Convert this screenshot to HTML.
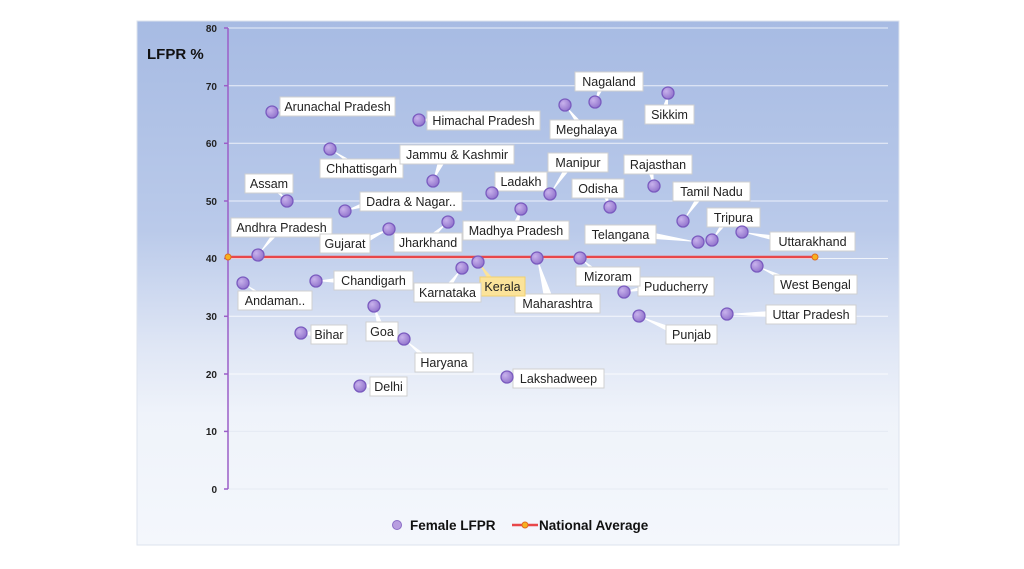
<!DOCTYPE html>
<html><head><meta charset="utf-8"><style>
body{margin:0;background:#fff;width:1024px;height:569px;overflow:hidden}
svg{display:block;font-family:"Liberation Sans",sans-serif}
.l rect{fill:#fff;stroke:#d0d0d0;stroke-width:1}
.l text{font-size:12.5px;fill:#222;text-anchor:middle}
.w{fill:#fff}
.p{fill:url(#pg);stroke:#7a5bbf;stroke-width:1.3}
.t{font-size:10px;font-weight:bold;fill:#222;text-anchor:end}
</style></head><body>
<svg width="1024" height="569" viewBox="0 0 1024 569">
<defs>
<linearGradient id="bg" x1="0" y1="0" x2="0" y2="1">
<stop offset="0" stop-color="#a7bbe3"/><stop offset="0.4" stop-color="#bacaea"/><stop offset="0.62" stop-color="#dfe6f5"/><stop offset="0.75" stop-color="#eff3fa"/><stop offset="1" stop-color="#f4f7fc"/>
</linearGradient>
<radialGradient id="pg" cx="0.35" cy="0.35" r="0.7"><stop offset="0" stop-color="#c8b2ec"/><stop offset="1" stop-color="#9173cc"/></radialGradient>
</defs>
<rect x="137" y="21" width="762" height="524" fill="url(#bg)" stroke="#dde3ee"/>
<g stroke="#ffffff" stroke-opacity="0.75" stroke-width="1">
<line x1="228" y1="28" x2="888" y2="28"/><line x1="228" y1="85.7" x2="888" y2="85.7"/><line x1="228" y1="143.3" x2="888" y2="143.3"/><line x1="228" y1="201" x2="888" y2="201"/><line x1="228" y1="258.5" x2="888" y2="258.5"/><line x1="228" y1="316.3" x2="888" y2="316.3"/><line x1="228" y1="374" x2="888" y2="374"/><line x1="228" y1="431.4" x2="888" y2="431.4" stroke="#e2e7f0"/><line x1="228" y1="489" x2="888" y2="489" stroke="#e2e7f0"/>
</g>
<line x1="228" y1="28" x2="228" y2="489" stroke="#9b5fc8" stroke-width="1.5"/>
<g stroke="#9b5fc8" stroke-width="1.5"><line x1="224" y1="28" x2="228" y2="28"/><line x1="224" y1="85.7" x2="228" y2="85.7"/><line x1="224" y1="143.3" x2="228" y2="143.3"/><line x1="224" y1="201" x2="228" y2="201"/><line x1="224" y1="258.5" x2="228" y2="258.5"/><line x1="224" y1="316.3" x2="228" y2="316.3"/><line x1="224" y1="374" x2="228" y2="374"/><line x1="224" y1="431.4" x2="228" y2="431.4"/><line x1="224" y1="489" x2="228" y2="489"/></g>
<g class="t"><text x="217" y="32">80</text><text x="217" y="90">70</text><text x="217" y="147">60</text><text x="217" y="205">50</text><text x="217" y="262">40</text><text x="217" y="320">30</text><text x="217" y="378">20</text><text x="217" y="435">10</text><text x="217" y="493">0</text></g>
<text x="147" y="59" font-size="15" font-weight="bold" fill="#111">LFPR %</text>

<g class="w">
<polygon points="258,255 277,227 285,227"/>
<polygon points="287,201 265,183 273,183"/>
<polygon points="272,112 300,102 300,110"/>
<polygon points="330,149 355,168 365,168"/>
<polygon points="345,211 375,197 375,205"/>
<polygon points="389,229 360,239 360,247"/>
<polygon points="448,222 420,242 430,242"/>
<polygon points="433,181 440,154 450,154"/>
<polygon points="419,120 440,116 440,124"/>
<polygon points="492,193 510,181 518,181"/>
<polygon points="521,209 510,230 518,230"/>
<polygon points="550,194 568,162 576,162"/>
<polygon points="565,105 580,129 588,129"/>
<polygon points="595,102 600,81 608,81"/>
<polygon points="668,94 660,114 668,114"/>
<polygon points="654,186 645,164 653,164"/>
<polygon points="610,207 598,188 606,188"/>
<polygon points="683,221 700,191 708,191"/>
<polygon points="712,240 725,217 733,217"/>
<polygon points="698,242 640,230 640,238"/>
<polygon points="742,232 790,237 790,245"/>
<polygon points="757,266 795,280 795,288"/>
<polygon points="727,314 785,310 785,318"/>
<polygon points="639,316 680,330 680,338"/>
<polygon points="624,292 655,282 655,290"/>
<polygon points="580,258 598,276 606,276"/>
<polygon points="537,258 545,303 555,303"/>
<polygon points="478,262 492,286 500,286" fill="#fbe39a"/>
<polygon points="462,268 440,292 448,292"/>
<polygon points="316,281 350,276 350,284"/>
<polygon points="243,283 265,300 273,300"/>
<polygon points="301,333 318,330 318,338"/>
<polygon points="374,306 378,331 386,331"/>
<polygon points="404,339 430,358 430,366"/>
<polygon points="360,386 380,382 380,390"/>
<polygon points="507,377 530,374 530,382"/>
</g>

<line x1="228" y1="257" x2="815" y2="257" stroke="#e8474a" stroke-width="2.5"/>
<circle cx="228" cy="257" r="3" fill="#f6b21f" stroke="#e06a20"/>
<circle cx="815" cy="257" r="3" fill="#f6b21f" stroke="#e06a20"/>

<g class="l">
<rect x="231" y="218" width="101" height="19"/><text x="281.5" y="232">Andhra Pradesh</text>
<rect x="245" y="174" width="48" height="19"/><text x="269" y="188">Assam</text>
<rect x="280" y="97" width="115" height="19"/><text x="337.5" y="111">Arunachal Pradesh</text>
<rect x="320" y="159" width="83" height="19"/><text x="361.5" y="173">Chhattisgarh</text>
<rect x="360" y="192" width="102" height="19"/><text x="411" y="206">Dadra &amp; Nagar..</text>
<rect x="320" y="234" width="50" height="19"/><text x="345" y="248">Gujarat</text>
<rect x="394" y="233" width="68" height="19"/><text x="428" y="247">Jharkhand</text>
<rect x="400" y="145" width="114" height="19"/><text x="457" y="159">Jammu &amp; Kashmir</text>
<rect x="427" y="111" width="113" height="19"/><text x="483.5" y="125">Himachal Pradesh</text>
<rect x="495" y="172" width="52" height="19"/><text x="521" y="186">Ladakh</text>
<rect x="463" y="221" width="106" height="19"/><text x="516" y="235">Madhya Pradesh</text>
<rect x="548" y="153" width="60" height="19"/><text x="578" y="167">Manipur</text>
<rect x="550" y="120" width="73" height="19"/><text x="586.5" y="134">Meghalaya</text>
<rect x="575" y="72" width="68" height="19"/><text x="609" y="86">Nagaland</text>
<rect x="645" y="105" width="49" height="19"/><text x="669.5" y="119">Sikkim</text>
<rect x="624" y="155" width="68" height="19"/><text x="658" y="169">Rajasthan</text>
<rect x="572" y="179" width="52" height="19"/><text x="598" y="193">Odisha</text>
<rect x="673" y="182" width="77" height="19"/><text x="711.5" y="196">Tamil Nadu</text>
<rect x="707" y="208" width="53" height="19"/><text x="733.5" y="222">Tripura</text>
<rect x="585" y="225" width="71" height="19"/><text x="620.5" y="239">Telangana</text>
<rect x="770" y="232" width="85" height="19"/><text x="812.5" y="246">Uttarakhand</text>
<rect x="774" y="275" width="83" height="19"/><text x="815.5" y="289">West Bengal</text>
<rect x="766" y="305" width="90" height="19"/><text x="811" y="319">Uttar Pradesh</text>
<rect x="666" y="325" width="51" height="19"/><text x="691.5" y="339">Punjab</text>
<rect x="638" y="277" width="76" height="19"/><text x="676" y="291">Puducherry</text>
<rect x="576" y="267" width="64" height="19"/><text x="608" y="281">Mizoram</text>
<rect x="515" y="294" width="85" height="19"/><text x="557.5" y="308">Maharashtra</text>
<rect x="480" y="277" width="45" height="19" style="fill:#fbe39a;stroke:#f0d070"/><text x="502.5" y="291">Kerala</text>
<rect x="414" y="283" width="67" height="19"/><text x="447.5" y="297">Karnataka</text>
<rect x="334" y="271" width="79" height="19"/><text x="373.5" y="285">Chandigarh</text>
<rect x="238" y="291" width="74" height="19"/><text x="275" y="305">Andaman..</text>
<rect x="311" y="325" width="36" height="19"/><text x="329" y="339">Bihar</text>
<rect x="366" y="322" width="32" height="19"/><text x="382" y="336">Goa</text>
<rect x="415" y="353" width="58" height="19"/><text x="444" y="367">Haryana</text>
<rect x="370" y="377" width="37" height="19"/><text x="388.5" y="391">Delhi</text>
<rect x="513" y="369" width="91" height="19"/><text x="558.5" y="383">Lakshadweep</text>
</g>

<g class="p">
<circle cx="258" cy="255" r="6"/><circle cx="287" cy="201" r="6"/><circle cx="272" cy="112" r="6"/><circle cx="330" cy="149" r="6"/><circle cx="345" cy="211" r="6"/><circle cx="389" cy="229" r="6"/><circle cx="448" cy="222" r="6"/><circle cx="433" cy="181" r="6"/><circle cx="419" cy="120" r="6"/><circle cx="492" cy="193" r="6"/><circle cx="521" cy="209" r="6"/><circle cx="550" cy="194" r="6"/><circle cx="565" cy="105" r="6"/><circle cx="595" cy="102" r="6"/><circle cx="668" cy="93" r="6"/><circle cx="654" cy="186" r="6"/><circle cx="610" cy="207" r="6"/><circle cx="683" cy="221" r="6"/><circle cx="712" cy="240" r="6"/><circle cx="698" cy="242" r="6"/><circle cx="742" cy="232" r="6"/><circle cx="757" cy="266" r="6"/><circle cx="727" cy="314" r="6"/><circle cx="639" cy="316" r="6"/><circle cx="624" cy="292" r="6"/><circle cx="580" cy="258" r="6"/><circle cx="537" cy="258" r="6"/><circle cx="478" cy="262" r="6"/><circle cx="462" cy="268" r="6"/><circle cx="316" cy="281" r="6"/><circle cx="243" cy="283" r="6"/><circle cx="301" cy="333" r="6"/><circle cx="374" cy="306" r="6"/><circle cx="404" cy="339" r="6"/><circle cx="360" cy="386" r="6"/><circle cx="507" cy="377" r="6"/>
</g>

<circle cx="397" cy="525" r="4.5" fill="#b89ee0" stroke="#8a6cc6"/>
<text x="410" y="530" font-size="13.5" font-weight="bold" fill="#111">Female LFPR</text>
<line x1="512" y1="525" x2="538" y2="525" stroke="#e8474a" stroke-width="2.5"/>
<circle cx="525" cy="525" r="3" fill="#f6b21f" stroke="#e06a20"/>
<text x="539" y="530" font-size="13.5" font-weight="bold" fill="#111">National Average</text>
</svg>
</body></html>
